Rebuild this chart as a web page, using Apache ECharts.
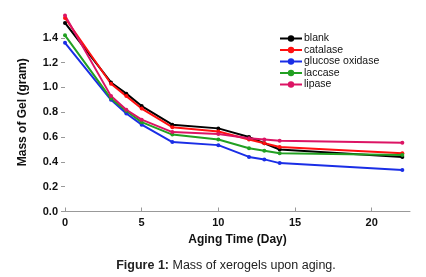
<!DOCTYPE html>
<html>
<head>
<meta charset="utf-8">
<script src="https://cdn.jsdelivr.net/npm/echarts@6/dist/echarts.min.js"></script>
<style>
  html, body { margin: 0; padding: 0; background: #fff; }
  #chart { width: 426px; height: 277px; }
</style>
</head>
<body>
<div id="chart"></div>
<script>
// aging days and gel mass (gram) per enzyme
const days = [0, 3, 4, 5, 7, 10, 12, 13, 14, 22];
const blank = [1.52, 1.04, 0.95, 0.85, 0.70, 0.67, 0.60, 0.55, 0.50, 0.44];
const catalase = [1.56, 1.03, 0.93, 0.83, 0.68, 0.645, 0.58, 0.55, 0.52, 0.47];
const glucoseOxidase = [1.36, 0.90, 0.79, 0.70, 0.56, 0.535, 0.44, 0.42, 0.39, 0.335];
const laccase = [1.42, 0.91, 0.81, 0.72, 0.62, 0.58, 0.51, 0.49, 0.47, 0.455];
const lipase = [1.58, 0.93, 0.82, 0.74, 0.64, 0.625, 0.59, 0.58, 0.57, 0.555];

const seriesNames = ["blank", "catalase", "glucose oxidase", "laccase", "lipase"];
const seriesValues = [blank, catalase, glucoseOxidase, laccase, lipase];
const seriesColors = ["#000000", "#ff1010", "#1a2ee6", "#22a022", "#dc1464"];

const font = "Liberation Sans, Arial, sans-serif";

const myChart = echarts.init(document.getElementById("chart"));

const option = {
  animation: false,
  grid: { left: 65, right: 16, top: 13, bottom: 65.5 },
  title: {
    text: "{b|Figure 1:} Mass of xerogels upon aging.",
    left: 221,
    textAlign: "center",
    top: 254,
    textStyle: {
      fontFamily: font, fontSize: 12.5, fontWeight: "normal", color: "#222",
      rich: { b: { fontFamily: font, fontSize: 12.5, fontWeight: "bold", color: "#222" } }
    }
  },
  legend: {
    orient: "vertical",
    left: 279,
    top: 33,
    padding: 0,
    itemWidth: 22,
    itemHeight: 8,
    itemGap: 0.5,
    textStyle: { fontFamily: font, fontSize: 10.5, lineHeight: 11, color: "#111", padding: [0, 0, 0, -3] },
    data: seriesNames
  },
  xAxis: {
    type: "value",
    min: 0,
    max: 22.5,
    interval: 5,
    name: "Aging Time (Day)",
    nameLocation: "middle",
    nameGap: 22,
    nameTextStyle: { fontFamily: font, fontSize: 12, fontWeight: "bold", color: "#111" },
    splitLine: { show: false },
    axisLine: { lineStyle: { color: "#999", width: 1 } },
    axisTick: { inside: true, length: 4, lineStyle: { color: "#999" } },
    axisLabel: { fontFamily: font, fontSize: 11, fontWeight: "bold", color: "#111", margin: 6,
      showMaxLabel: false }
  },
  yAxis: {
    type: "value",
    min: 0,
    max: 1.6,
    interval: 0.2,
    name: "Mass of Gel (gram)",
    nameLocation: "middle",
    nameGap: 36,
    nameTextStyle: { fontFamily: font, fontSize: 12, fontWeight: "bold", color: "#111" },
    splitLine: { show: false },
    axisLine: { show: false },
    axisTick: { show: true, length: 4, lineStyle: { color: "#999" } },
    axisLabel: {
      fontFamily: font, fontSize: 11, fontWeight: "bold", color: "#111", margin: 7,
      showMaxLabel: false,
      formatter: v => v.toFixed(1)
    }
  },
  series: seriesNames.map((name, i) => ({
    name: name,
    type: "line",
    data: days.map((d, j) => [d, seriesValues[i][j]]),
    symbol: "circle",
    symbolSize: 4,
    color: seriesColors[i],
    lineStyle: { width: 2, color: seriesColors[i] },
    itemStyle: { color: seriesColors[i] }
  }))
};

myChart.setOption(option);
</script>
</body>
</html>
